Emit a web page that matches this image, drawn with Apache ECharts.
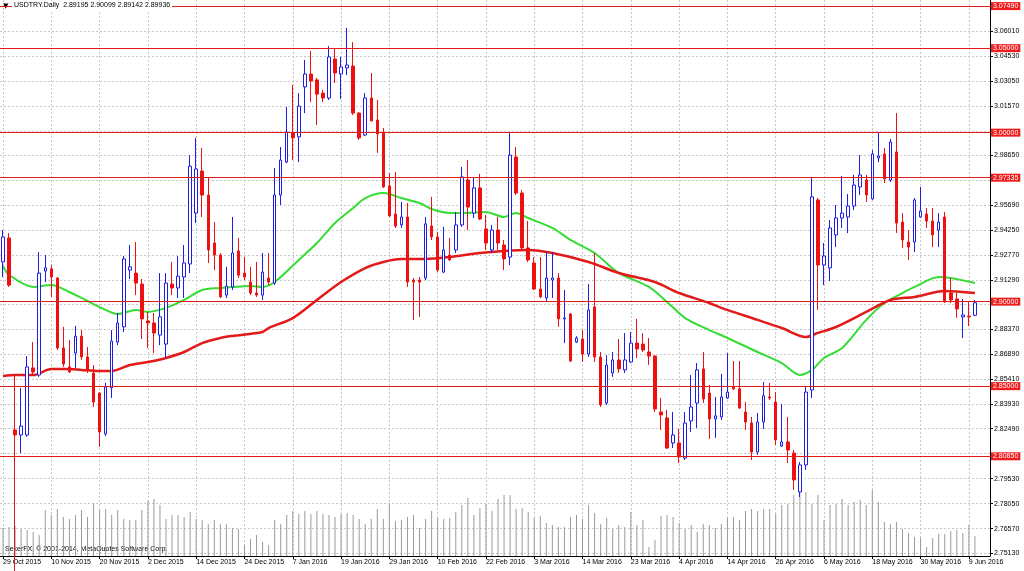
<!DOCTYPE html>
<html><head><meta charset="utf-8">
<script src="https://cdn.jsdelivr.net/npm/echarts@6/dist/echarts.min.js"></script>
<style>html,body{margin:0;padding:0;background:#fff}#c{width:1024px;height:571px}</style>
</head><body><div id="c"></div>
<script>
const monthDays = [
 ['Oct 2015', [29,30]],
 ['Nov 2015', [2,3,4,5,6,9,10,11,12,13,16,17,18,19,20,23,24,25,26,27,30]],
 ['Dec 2015', [1,2,3,4,7,8,9,10,11,14,15,16,17,18,21,22,23,24,28,29,30,31]],
 ['Jan 2016', [4,5,6,7,8,11,12,13,14,15,18,19,20,21,22,25,26,27,28,29]],
 ['Feb 2016', [1,2,3,4,5,8,9,10,11,12,15,16,17,18,19,22,23,24,25,26,29]],
 ['Mar 2016', [1,2,3,4,7,8,9,10,11,13,14,15,16,17,18,20,21,22,23,24,25,28,29,30,31]],
 ['Apr 2016', [1,4,5,6,7,8,11,12,13,14,15,18,19,20,21,22,25,26,27,28,29]],
 ['May 2016', [2,3,4,5,6,9,10,11,12,13,16,17,18,19,20,23,24,25,26,27,30,31]],
 ['Jun 2016', [1,2,3,6,7,8,9,10]]
];
const padDays = ['13 Jun 2016', '14 Jun 2016'];

const open = [2.9235,2.9377,2.8241,2.8211,2.8211,2.8608,2.8566,2.9181,2.9194,2.9140,
2.8726,2.8614,2.8696,2.8796,2.8673,2.8578,2.8459,2.8217,2.8490,2.8761,
2.8851,2.9187,2.9169,2.9104,2.8886,2.8874,2.8802,2.8749,2.9104,2.9081,
2.9146,2.9223,2.9524,2.9773,2.9631,2.9347,2.9276,2.9039,2.9087,2.9300,
2.9169,2.9116,2.9051,2.9039,2.9140,2.9110,2.9631,2.9826,2.9998,2.9975,
3.0271,3.0347,3.0312,3.0234,3.0205,3.0436,3.0347,3.0383,3.0394,3.0116,
2.9986,3.0205,3.0075,2.9998,2.9685,2.9519,2.9454,2.9501,2.9128,2.9128,
2.9140,2.9448,2.9383,2.9175,2.9276,2.9306,2.9454,2.9720,2.9524,2.9673,
2.9430,2.9306,2.9424,2.9335,2.9264,2.9856,2.9643,2.9318,2.9229,2.9075,
2.9022,2.9128,2.9140,2.8898,2.8927,2.8761,2.8779,2.8690,2.8969,2.8673,
2.8400,2.8578,2.8655,2.8596,2.8643,2.8755,2.8749,2.8702,2.8678,2.8347,
2.8312,2.8164,2.8164,2.8075,2.8294,2.8400,2.8602,2.8459,2.8306,2.8318,
2.8430,2.8496,2.8484,2.8347,2.8282,2.8110,2.8288,2.8436,2.8406,2.8146,
2.8170,2.8104,2.7874,2.8034,2.8477,2.9602,2.9217,2.9200,2.9395,2.9495,
2.9501,2.9566,2.9679,2.9720,2.9608,2.9850,2.9874,2.9720,2.9886,2.9471,
2.9353,2.9353,2.9501,2.9519,2.9477,2.9424,2.9501,2.9051,2.9016,2.8910,
2.8915,2.89195];
const high = [2.9424,2.9406,2.8572,2.8490,2.8678,2.8761,2.9294,2.9276,2.9217,2.9146,
2.8851,2.8773,2.8856,2.8832,2.8732,2.8625,2.8465,2.8519,2.8832,2.8933,
2.9270,2.9335,2.9353,2.9134,2.8939,2.8933,2.9169,2.9169,2.9235,2.9270,
2.9335,2.9867,2.9969,2.9910,2.9732,2.9471,2.9288,2.9206,2.9501,2.9377,
2.9264,2.9206,2.9235,2.9288,2.9288,2.9791,2.9915,3.0152,3.0282,3.0234,
3.0430,3.0483,3.0324,3.0252,3.0512,3.0501,3.0448,3.0620,3.0536,3.0122,
3.0234,3.0353,3.0193,3.0028,2.9761,2.9767,2.9590,2.9584,2.9140,2.9146,
2.9501,2.9620,2.9412,2.9442,2.9377,2.9530,2.9797,2.9838,2.9732,2.9756,
2.9513,2.9454,2.9501,2.9365,2.9998,2.9915,2.9661,2.9477,2.9264,2.9264,
2.9294,2.9294,2.9169,2.9069,2.8933,2.8796,2.8832,2.9104,2.9288,2.8702,
2.8684,2.8702,2.8779,2.8814,2.8820,2.8898,2.8814,2.8785,2.8684,2.8430,
2.8359,2.8347,2.8247,2.8347,2.8566,2.8637,2.8702,2.8507,2.8436,2.8572,
2.8696,2.8649,2.8649,2.8406,2.8318,2.8341,2.8525,2.8519,2.8465,2.8395,
2.8318,2.8122,2.8051,2.8496,2.9738,2.9613,2.9347,2.9483,2.9572,2.9744,
2.9637,2.9750,2.9867,2.9750,2.9897,3.0004,2.9909,2.9963,3.0116,2.9524,
2.9424,2.9613,2.9679,2.9554,2.9554,2.9524,2.9530,2.9140,2.9051,2.9016,
2.8998,2.90099];
const low = [2.9146,2.9087,2.7200,2.8104,2.8200,2.8566,2.8555,2.9116,2.9028,2.8714,
2.8614,2.8578,2.8608,2.8655,2.8578,2.8377,2.8141,2.8205,2.8430,2.8743,
2.8820,2.9134,2.9039,2.8779,2.8726,2.8696,2.8743,2.8667,2.9039,2.9022,
2.9022,2.9169,2.9465,2.9501,2.9229,2.9187,2.9022,2.9022,2.9069,2.9140,
2.9128,2.9039,2.9028,2.9010,2.9098,2.9098,2.9572,2.9820,2.9838,2.9826,
3.0116,3.0181,3.0045,3.0181,3.0193,3.0294,3.0199,3.0341,3.0104,2.9957,
2.9980,3.0093,2.9880,2.9673,2.9501,2.9436,2.9436,2.9087,2.8892,2.8910,
2.9128,2.9365,2.9175,2.9169,2.9241,2.9288,2.9442,2.9424,2.9495,2.9483,
2.9306,2.9288,2.9306,2.9187,2.9217,2.9631,2.9306,2.9235,2.9069,2.9022,
2.8998,2.9022,2.8851,2.8755,2.8643,2.8755,2.8643,2.8673,2.8643,2.8377,
2.8389,2.8555,2.8578,2.8578,2.8637,2.8667,2.8702,2.8625,2.8347,2.8241,
2.8128,2.8134,2.8045,2.8063,2.8229,2.8253,2.8400,2.8188,2.8194,2.8300,
2.8424,2.8477,2.8365,2.8241,2.8063,2.8093,2.8247,2.8418,2.8152,2.8140,
2.8045,2.7886,2.7844,2.8004,2.8430,2.8951,2.9098,2.9122,2.9323,2.9436,
2.9406,2.9542,2.9631,2.9590,2.9602,2.9826,2.9702,2.9708,2.9406,2.9318,
2.9247,2.9294,2.9495,2.9436,2.9323,2.9323,2.8992,2.8992,2.8904,2.8785,
2.8856,2.89142];
const close = [2.9383,2.9098,2.8211,2.8264,2.8614,2.8584,2.9169,2.9200,2.9146,2.8726,
2.8631,2.8584,2.8796,2.8673,2.8596,2.8406,2.8229,2.8496,2.8767,2.8874,
2.9253,2.9206,2.9110,2.8898,2.8874,2.8814,2.8910,2.9110,2.9081,2.9151,
2.9229,2.9802,2.9785,2.9631,2.9306,2.9276,2.9028,2.9092,2.9288,2.9157,
2.9146,2.9051,2.9039,2.9175,2.9116,2.9631,2.9838,3.0004,2.9969,3.0157,
3.0347,3.0306,3.0228,3.0205,3.0448,3.0353,3.0389,3.0400,3.0116,2.9969,
3.0205,3.0069,2.9992,2.9679,2.9507,2.9448,2.9501,2.9116,2.9116,2.9116,
2.9460,2.9383,2.9187,2.9306,2.9247,2.9454,2.9738,2.9560,2.9673,2.9489,
2.9347,2.9424,2.9347,2.9253,2.9867,2.9643,2.9318,2.9247,2.9075,2.9028,
2.9140,2.9140,2.8898,2.8904,2.8649,2.8785,2.8690,2.8951,2.8673,2.8389,
2.8625,2.8655,2.8602,2.8655,2.8755,2.8720,2.8714,2.8678,2.8365,2.8330,
2.8134,2.8211,2.8081,2.8282,2.8377,2.8596,2.8424,2.8306,2.8324,2.8436,
2.8465,2.8484,2.8371,2.8288,2.8110,2.8288,2.8443,2.8430,2.8182,2.8170,
2.8122,2.7945,2.8034,2.8465,2.9620,2.9217,2.9270,2.9436,2.9495,2.9524,
2.9566,2.9690,2.9750,2.9631,2.9874,2.9862,2.9726,2.9945,2.9465,2.9365,
2.9323,2.9602,2.9536,2.9477,2.9395,2.9471,2.8998,2.9010,2.8957,2.8921,
2.8910,2.89936];
const volume = [2800,2900,3000,2700,2600,2400,2100,4600,4100,4700,
3900,3700,4100,4600,3900,5300,4600,4700,4100,4600,
3700,3600,3600,4600,5500,5700,5100,3700,4100,4100,
3900,4400,3700,3600,3200,3600,3200,3200,2800,2700,
1100,1700,2100,1400,1100,3600,3200,4100,4500,4200,
4500,4200,4500,4200,4100,3900,4200,4300,4100,3700,
3200,3700,4700,3700,5200,3500,3600,3900,4100,2800,
3700,4500,3800,3700,3800,4400,5100,5800,4100,4800,
5200,4500,5700,6100,6100,4700,4800,4400,3800,4000,
3300,3100,2900,2900,3900,4100,3700,5100,4300,3200,
3800,2700,3100,2900,4400,3100,3600,900,1600,4000,
4100,3900,3300,2700,3100,2400,3200,3100,2800,3200,
3800,3900,3600,4500,4700,4500,4700,4700,4200,5100,
5200,6100,6900,6400,5200,6100,3600,5100,5200,5700,
5100,5400,5600,5100,6600,5400,3400,3200,3400,2700,
2300,1900,1800,900,1800,2200,2200,2500,2600,2300,
3100,2000];
// moving averages: [bar index, value]
const maGreen = [[0,2.9211],[1,2.9158],[5,2.9087],[8,2.9099],[11,2.9057],[13,2.9022],[16,2.8968],[19,2.8927],[22,2.8951],[24,2.8939],[27,2.8963],[30,2.9010],[33,2.9069],[36,2.9081],[38,2.9087],[41,2.9093],[43,2.9087],[45,2.9116],[49,2.9247],[52,2.9347],[55,2.9466],[58,2.9554],[60,2.9613],[63,2.9643],[64,2.9637],[66,2.9613],[69,2.9584],[71,2.9548],[74,2.9525],[76,2.9525],[80,2.9531],[83,2.9501],[85,2.9525],[87,2.9495],[91,2.9436],[94,2.9365],[98,2.9288],[102,2.9170],[107,2.9087],[110,2.8998],[113,2.8903],[117,2.8832],[120,2.8785],[125,2.8702],[129,2.8637],[132,2.8566],[134,2.8596],[136,2.8667],[139,2.8726],[143,2.8892],[146,2.8992],[149,2.9051],[151,2.9087],[155,2.9146],[157,2.9140],[161,2.9110]];
const maRed = [[0,2.8560],[2,2.8566],[5,2.8566],[8,2.8601],[11,2.8601],[13,2.8596],[16,2.8590],[18,2.8590],[21,2.8625],[24,2.8643],[27,2.8667],[30,2.8702],[33,2.8755],[36,2.8785],[38,2.8797],[43,2.8821],[44,2.8844],[48,2.8903],[52,2.9010],[56,2.9116],[60,2.9199],[63,2.9235],[66,2.9252],[70,2.9252],[74,2.9264],[79,2.9288],[83,2.9300],[87,2.9306],[91,2.9288],[97,2.9235],[102,2.9170],[108,2.9116],[112,2.9051],[117,2.8992],[119,2.8963],[125,2.8892],[129,2.8844],[133,2.8791],[135,2.8815],[138,2.8850],[143,2.8939],[147,2.9010],[151,2.9028],[156,2.9063],[161,2.9051]];
const levels = [3.0749, 3.05, 3.0, 2.97335, 2.9, 2.85, 2.8085];
const yGridTicks = [2.7513,2.7657,2.7805,2.7953,2.8101,2.8249,2.8393,2.8541,2.8689,2.8837,2.8983,2.9129,2.9277,2.9425,2.9569,2.9717,2.9865,3.0011,3.0157,3.0305,3.0453,3.0601];
const yTickLabels = [2.7513,2.7657,2.7805,2.7953,2.8249,2.8393,2.8541,2.8689,2.8837,2.9129,2.9277,2.9425,2.9569,2.9865,3.0157,3.0305,3.0453,3.0601];
const yMin = 2.7495, yMax = 3.0785;
const titleText = 'USDTRY.Daily  2.89195 2.90099 2.89142 2.89936';
const copyText = 'SekerFX, \u00a9 2001-2014, MetaQuotes Software Corp.';

const FONT = 'Liberation Sans';
const LEVEL_RED = '#e31a1a';
const categories = [];
monthDays.forEach(([m, ds]) => ds.forEach(d => categories.push(d + ' ' + m)));
padDays.forEach(d => categories.push(d));
const candleData = categories.map((c, i) => i < open.length ? [open[i], close[i], low[i], high[i]] : '-');
const volData = categories.map((c, i) => i < volume.length ? volume[i] : '-');

const chart = echarts.init(document.getElementById('c'), null, {renderer: 'canvas'});
chart.setOption({
  animation: false,
  backgroundColor: '#ffffff',
  textStyle: {fontFamily: FONT},
  title: {text: titleText, left: 12, top: 1, padding: [1, 2],
    backgroundColor: '#ffffff',
    textStyle: {fontSize: 7, fontWeight: 'normal', color: '#000', fontFamily: FONT}},
  graphic: [
    {type: 'text', left: 3, top: 3, style: {text: '\u25bc', fontSize: 7, fill: '#000', fontFamily: 'DejaVu Sans'}},
    {type: 'text', left: 5, top: 546, style: {text: copyText, fontSize: 7, fill: '#000', fontFamily: FONT}}
  ],
  grid: {left: -1, right: 34, top: 0, bottom: 15, containLabel: false},
  xAxis: {
    type: 'category', data: categories, boundaryGap: true,
    axisLine: {show: true, onZero: false, lineStyle: {color: '#000', width: 1}},
    axisTick: {show: true, interval: 7, alignWithLabel: true, length: 3, lineStyle: {color: '#000'}},
    axisLabel: {interval: 7, align: 'left', margin: 3, fontSize: 7, color: '#000', fontFamily: FONT},
    splitLine: {show: true, interval: 7, alignWithLabel: true, lineStyle: {color: '#c8c8c8', type: [2, 2]}}
  },
  yAxis: [{
    type: 'value', position: 'right', min: yMin, max: yMax,
    axisLine: {show: true, lineStyle: {color: '#000'}},
    axisTick: {show: true, length: 3, customValues: yGridTicks, lineStyle: {color: '#000'}},
    axisLabel: {customValues: yTickLabels, fontSize: 7, color: '#000', margin: 4, fontFamily: FONT,
      formatter: v => Number(v).toFixed(5)},
    splitLine: {show: true, lineStyle: {color: '#c8c8c8', type: [2, 2]}}
  }, {type: 'value', min: 0, max: 55600, show: false}],
  series: [
    {type: 'bar', yAxisIndex: 1, data: volData, barWidth: 1, silent: true, z: 1,
      itemStyle: {color: '#9a9a9a'}},
    {type: 'line', data: maGreen, smooth: 0.3, showSymbol: false, connectNulls: true, silent: true, z: 2,
      lineStyle: {color: '#35dc35', width: 2}},
    {type: 'line', data: maRed, smooth: 0.3, showSymbol: false, connectNulls: true, silent: true, z: 2,
      lineStyle: {color: LEVEL_RED, width: 2.5}},
    {type: 'candlestick', data: candleData, barWidth: 3, z: 3, silent: true,
      itemStyle: {color: '#ffffff', color0: '#ee1111', borderColor: '#1e1ee6', borderColor0: '#ee1111', borderWidth: 1},
      markLine: {symbol: ['none', 'none'], silent: true, animation: false, precision: 5,
        lineStyle: {color: LEVEL_RED, width: 1, type: 'solid', opacity: 1},
        label: {show: true, position: 'end', distance: 1, color: '#fff', backgroundColor: '#ee1c1c',
          padding: [1, 2, 0, 2], fontSize: 7, fontFamily: FONT,
          formatter: p => levels[p.dataIndex].toFixed(5)},
        emphasis: {disabled: true},
        data: levels.map(v => ({yAxis: v, lineStyle: {color: LEVEL_RED, width: 1, type: 'solid'},
          itemStyle: {color: LEVEL_RED}}))}
    }
  ]
});
</script>
</body></html>
